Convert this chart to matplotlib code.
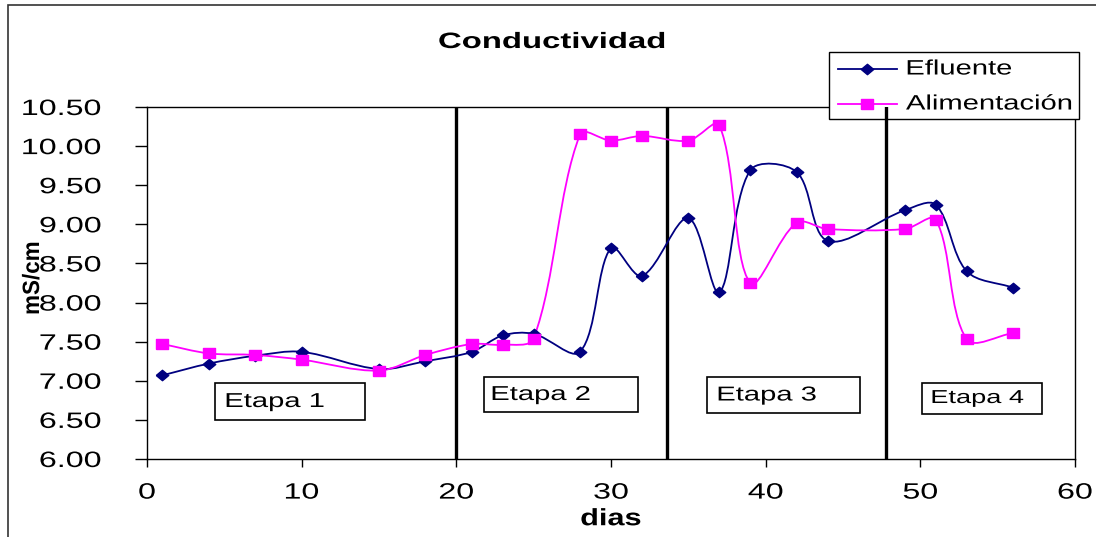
import numpy as np
import matplotlib
matplotlib.use("Agg")
import matplotlib.pyplot as plt
from matplotlib.path import Path
from matplotlib.patches import PathPatch, Rectangle
from matplotlib.lines import Line2D
from matplotlib.transforms import Affine2D
from matplotlib.patheffects import AbstractPathEffect

plt.rcParams['font.family'] = ['Liberation Sans', 'DejaVu Sans']

# data
dias = [1, 4, 7, 10, 15, 18, 21, 23, 25, 28, 30, 32, 35, 37, 39, 42, 44, 49, 51, 53, 56]
efluente = [7.07, 7.22, 7.32, 7.37, 7.15, 7.25, 7.37, 7.58, 7.60, 7.37, 8.70, 8.34,
            9.08, 8.13, 9.69, 9.67, 8.79, 9.18, 9.25, 8.40, 8.19]
alimentacion = [7.47, 7.35, 7.33, 7.27, 7.13, 7.33, 7.47, 7.46, 7.54, 10.15, 10.07, 10.13,
                10.07, 10.27, 8.25, 9.02, 8.94, 8.94, 9.06, 7.53, 7.61]
etapa_limites = [20.0, 33.6, 47.8]
etapas = ["Etapa 1", "Etapa 2", "Etapa 3", "Etapa 4"]
series = ["Efluente", "Alimentación"]

W, H = 1096, 537
SX = 1.45  # the original picture is stretched sideways


class Ensanchar(AbstractPathEffect):
    # stretch text horizontally around its anchor
    def __init__(self, sx=SX, ancla=0.0):
        super().__init__()
        self.sx = sx
        self.ancla = ancla

    def draw_path(self, renderer, gc, tpath, affine, rgbFace=None):
        ext = tpath.get_extents()
        cx = ext.x0 + self.ancla * ext.width
        t = Affine2D().translate(-cx, 0).scale(self.sx, 1).translate(cx, 0) + affine
        renderer.draw_path(gc, tpath, t, rgbFace)


def fx(px):
    return px / W


def fy(py):
    return 1 - py / H


def smooth_path(ax, x, y):
    # Excel-like smoothed line, tangents weighted by pixel chord lengths
    p = np.column_stack([x, y]).astype(float)
    sc = np.array([15.47, 78.2])
    n = len(p)
    d = [np.hypot(*((p[i + 1] - p[i]) * sc)) for i in range(n - 1)]
    verts = [p[0]]
    codes = [Path.MOVETO]
    for i in range(n - 1):
        if i > 0:
            c1 = p[i] + (p[i + 1] - p[i - 1]) * d[i] / (d[i - 1] + d[i]) / 3.0
        else:
            c1 = p[i] + (p[i + 1] - p[i]) / 3.0
        if i + 2 < n:
            c2 = p[i + 1] - (p[i + 2] - p[i]) * d[i] / (d[i] + d[i + 1]) / 3.0
        else:
            c2 = p[i + 1] - (p[i + 1] - p[i]) / 3.0
        verts += [c1, c2, p[i + 1]]
        codes += [Path.CURVE4] * 3
    return Path(verts, codes)


rombo = [(-1.2, 0), (0, 1), (1.2, 0), (0, -1), (-1.2, 0)]
cuadro = [(-1.25, -1), (1.25, -1), (1.25, 1), (-1.25, 1), (-1.25, -1)]
navy = "#000080"
magenta = "#FF00FF"

fig = plt.figure(figsize=(W / 100, H / 100), dpi=100)
ax = fig.add_axes([fx(147), fy(459), fx(1075) - fx(147), fy(107) - fy(459)])

ax.add_patch(PathPatch(smooth_path(ax, dias, efluente), fill=False, edgecolor=navy, lw=1.3, zorder=3))
ax.add_patch(PathPatch(smooth_path(ax, dias, alimentacion), fill=False, edgecolor=magenta, lw=1.3, zorder=3))
ax.plot(dias, efluente, linestyle='none', marker=rombo, color=navy, markersize=9, zorder=4)
ax.plot(dias, alimentacion, linestyle='none', marker=cuadro, color=magenta, markersize=9, zorder=4)

for xv in etapa_limites:
    ax.axvline(xv, color='black', lw=2.4, zorder=2.7)

ax.set_xlim(0, 60)
ax.set_ylim(6.0, 10.5)
ax.set_xticks(range(0, 61, 10))
yt = np.arange(6.0, 10.51, 0.5)
ax.set_yticks(yt)
ax.set_yticklabels([f"{v:.2f}" for v in yt])
ax.tick_params(axis='both', direction='out', width=1, labelsize=16, colors='black')
ax.tick_params(axis='x', length=6, pad=11)
ax.tick_params(axis='y', length=9, pad=24)
for lbl in ax.get_yticklabels():
    lbl.set_path_effects([Ensanchar(SX, 1.0)])
for lbl in ax.get_xticklabels():
    lbl.set_path_effects([Ensanchar(SX, 0.5)])
for s in ax.spines.values():
    s.set_linewidth(1.0)
    s.set_color('black')

ax.set_xlabel("dias", fontsize=17, fontweight='bold', path_effects=[Ensanchar(1.3, 0.5)])
ax.xaxis.set_label_coords(0.5, -0.137)
ax.set_ylabel("mS/cm", fontsize=17, fontweight='bold', path_effects=[Ensanchar(0.95, 0.5)])
ax.yaxis.set_label_coords((44 - 147) / 928, (459 - 278) / 352)

fig.text(fx(552), fy(48), "Conductividad", ha='center', va='baseline', fontsize=16,
         fontweight='bold', path_effects=[Ensanchar(1.48, 0.5)])

# stage boxes, pixel positions
cajas = [(215, 383, 365, 420, 225, 14.5),
         (484, 377, 638, 412, 491, 14.5),
         (707, 377, 860, 413, 717, 14.5),
         (922, 383, 1042, 414, 931, 13.5)]
for nombre, (x0, y0, x1, y1, xt, fs) in zip(etapas, cajas):
    ax.add_artist(Rectangle((fx(x0), fy(y1)), fx(x1) - fx(x0), fy(y0) - fy(y1),
                            transform=fig.transFigure, facecolor='white',
                            edgecolor='black', lw=1.2, zorder=5))
    ax.text(fx(xt), fy((y0 + y1) / 2), nombre, transform=fig.transFigure, fontsize=fs,
            va='center', ha='left', zorder=6, path_effects=[Ensanchar(SX, 0.0)])

# legend box
ax.add_artist(Rectangle((fx(829), fy(119)), fx(1079) - fx(829), fy(52) - fy(119),
                        transform=fig.transFigure, facecolor='white', edgecolor='black',
                        lw=1.0, zorder=2.6, clip_on=False))
for nombre, color, mk, yrow in zip(series, [navy, magenta], [rombo, cuadro], [69, 104]):
    ax.add_artist(Line2D([fx(838), fx(897)], [fy(yrow)] * 2, transform=fig.transFigure,
                         color=color, lw=1.3, zorder=2.65, clip_on=False))
    ax.add_artist(Line2D([fx(867)], [fy(yrow)], transform=fig.transFigure, color=color,
                         marker=mk, markersize=9, linestyle='none', zorder=2.66, clip_on=False))
    ax.text(fx(906), fy(yrow), nombre, transform=fig.transFigure, fontsize=15, va='center',
            ha='left', zorder=2.67, clip_on=False, path_effects=[Ensanchar(1.4, 0.0)])

# outer chart frame
fig.add_artist(Rectangle((fx(8), -0.05), 1.1, 0.05 + fy(5), transform=fig.transFigure,
                         fill=False, edgecolor='#333333', lw=1.2))

fig.savefig("out.png", dpi=100)
